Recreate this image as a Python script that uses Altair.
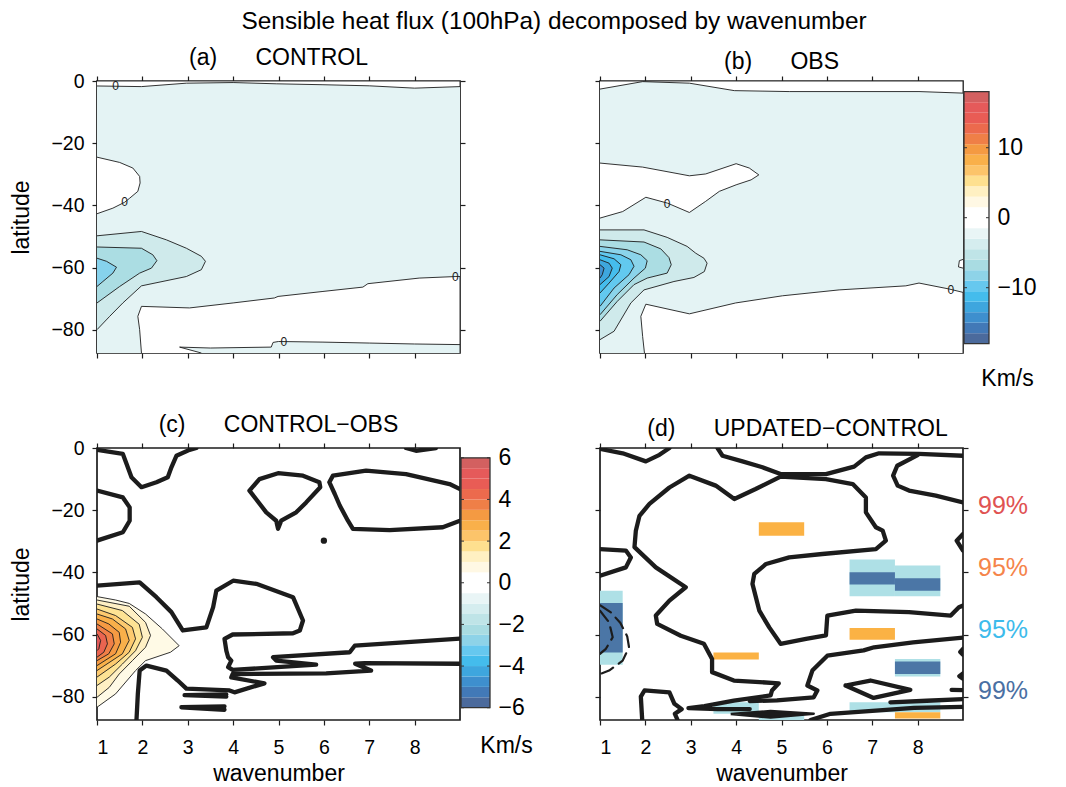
import altair as alt
import pandas as pd

# ---------------------------------------------------------------- data
WAVENUMBER_TICKS = [1, 2, 3, 4, 5, 6, 7, 8]
LATITUDE_TICKS = [0, -20, -40, -60, -80]
X_DOMAIN = [1, 9]
Y_DOMAIN = [-87.5, 0]

# colour bars (lowest band first)
CB_COLORS = ["#4b6a9c", "#4279b7", "#3e8fce", "#3ea6de", "#44bcec", "#66c8ef",
             "#8ed3e8", "#a9dce2", "#bfe4e7", "#d5edef", "#e9f5f6", "#ffffff",
             "#ffffff", "#fff8e4", "#fff0c2", "#fee08f", "#fcc46a", "#f9b04a",
             "#f49a42", "#ef7f47", "#ec6a4d", "#e95c55", "#e55a5a", "#d36060"]
CB_OBS_EDGES = [-18, -16.5, -15, -13.5, -12, -10.5, -9, -7.5, -6, -4.5, -3, -1.5, 0,
                1.5, 3, 4.5, 6, 7.5, 9, 10.5, 12, 13.5, 15, 16.5, 18]
CB_DIFF_EDGES = [-6, -5.5, -5, -4.5, -4, -3.5, -3, -2.5, -2, -1.5, -1, -0.5, 0,
                 0.5, 1, 1.5, 2, 2.5, 3, 3.5, 4, 4.5, 5, 5.5, 6]
CB_OBS_TICKS = [10, 0, -10]
CB_DIFF_TICKS = [6, 4, 2, 0, -2, -4, -6]

# panel frame corners (wavenumber, latitude)
FRAME = [(1, 0), (9, 0), (9, -87.5), (1, -87.5)]

# (a) CONTROL  -- contours as (wavenumber, latitude)
A_ZERO_TOP = [(1, -1.6), (1.98, -1.8), (2.97, -0.7), (4.0, -0.5), (4.95, -0.9), (5.98, -1.2),
              (7.0, -1.55), (8.0, -2.3), (9, -1.8), (9, 0), (1, 0)]
A_ZERO_UL = [(1, -24.5), (1.5, -26.2), (1.79, -28), (1.94, -30.7), (1.95, -32.8), (1.9, -35.5),
             (1.72, -37.7), (1.61, -39), (1.35, -40.9), (1, -42.7)]
A_ZERO_BOT = [(1.98, -87.5), (1.94, -80), (1.9, -75.7), (1.98, -72.5), (3.04, -73), (4.0, -71.4),
              (4.91, -69.8), (4.99, -69.3), (5.98, -67.7), (6.86, -66.3), (6.97, -65.2),
              (8.1, -63.4), (8.91, -62.9), (9, -62.9), (9, -87.5)]
A_NEG_STRIP = [(3.3, -87.5), (2.82, -85.6), (3.5, -85.9), (4.84, -85.6), (4.88, -84.1), (5.0, -83.8),
               (5.98, -84), (7.0, -84.3), (8.0, -84.6), (9, -84.8), (9, -87.5)]
A_L1 = [(1, -49.8), (1.98, -48.4), (2.53, -51.1), (2.97, -53.8), (3.3, -56.4), (3.39, -58),
        (3.3, -60.7), (2.97, -62.9), (1.98, -65.9), (1.57, -71.4), (1.28, -75.7), (1, -80)]
A_L2 = [(1, -53.4), (1.98, -53.8), (2.23, -55.9), (2.32, -57.8), (2.2, -60.2), (1.94, -61.8),
        (1.5, -66.1), (1, -71.4)]
A_L3 = [(1, -57), (1.21, -58), (1.43, -59.9), (1.35, -61.8), (1.13, -64.5), (1, -66.1)]
A_ZERO_LABELS = [(1.41, -1.5), (1.61, -39.0), (8.9, -62.9), (5.12, -84.0)]

# (b) OBS
B_ZERO_TOP = [(1, -2.6), (1.94, -0.2), (2.97, -0.7), (3.96, -3.1), (5.17, -3.4), (8.03, -3.4),
              (9, -3.9), (9, 0), (1, 0)]
B_ZERO_UL = [(1, -26.4), (1.94, -27.7), (2.97, -30.5), (3.33, -29.9), (4.0, -26.6), (4.29, -28),
             (4.5, -30.2), (4.33, -31.8), (4.0, -33.4), (3.63, -35.5), (3.33, -38.7), (2.97, -42.3),
             (2.49, -39.3), (2.01, -37.4), (1.5, -42), (1, -44.1)]
B_ZERO_BOT = [(1.98, -87.5), (1.94, -82.2), (1.9, -75.7), (2.01, -71.8), (2.97, -74.9), (3.99, -71.4),
              (5.02, -69.1), (6.27, -67.2), (7.74, -65.9), (8.03, -65), (8.69, -66.9), (9, -68),
              (9, -87.5)]
B_ZERO_BUMP = [(9, -57.4), (8.92, -57.8), (8.9, -59.8), (9, -60.2)]
B_L1 = [(1, -47.9), (1.97, -47.9), (2.48, -50.3), (2.92, -53.2), (3.11, -55.4), (3.29, -57),
        (3.36, -58.6), (3.3, -61.3), (3.07, -63.2), (2.63, -64.5), (1.97, -67.2), (1.68, -71.4),
        (1.31, -80.5), (1, -83.2)]
B_L2 = [(1, -51.1), (1.97, -51.8), (2.34, -54), (2.52, -56.8), (2.57, -59.1), (2.48, -61.8),
        (2.04, -63.4), (1.75, -65.5), (1.38, -70.9), (1, -77.3)]
B_L3 = [(1, -53.2), (1.6, -54.3), (1.9, -55.9), (2.04, -57.8), (2.0, -60.2), (1.75, -63.4),
        (1.38, -68.7), (1, -75.2)]
B_L4 = [(1, -54.8), (1.46, -55.9), (1.68, -57.5), (1.75, -59.6), (1.64, -62.3), (1.31, -66.6), (1, -72.5)]
B_L5 = [(1, -55.9), (1.31, -57.2), (1.46, -59.1), (1.42, -61.3), (1.2, -65), (1, -68.2)]
B_L6 = [(1, -57.5), (1.2, -58.6), (1.27, -60.2), (1.2, -62.9), (1, -65.5)]
B_L7 = [(1, -59.1), (1.09, -60.2), (1.05, -62.3), (1, -63.4)]
B_ZERO_LABELS = [(2.48, -39.5), (8.73, -67.2)]

# (c) CONTROL-OBS
C_L1 = [(1, -47.8), (1.41, -48.9), (1.71, -50.0), (2.07, -53.4), (2.44, -58.2), (2.81, -63.6),
        (2.62, -65.7), (2.07, -68.4), (1.85, -71.6), (1.41, -79.1), (1, -83.4)]
C_L2 = [(1, -48.9), (1.71, -50.9), (2.07, -56.1), (2.18, -60.3), (2.07, -64.1), (1.78, -68.4),
        (1.49, -72.7), (1.27, -77), (1, -80.2)]
C_L3 = [(1, -50.2), (1.56, -52.3), (1.93, -56.7), (2.0, -60.9), (1.85, -65.2), (1.56, -69.5),
        (1.27, -73.7), (1, -76.4)]
C_L4 = [(1, -51.8), (1.41, -53.9), (1.78, -57.7), (1.85, -61.4), (1.71, -65.7), (1.41, -69.5), (1, -73.7)]
C_L5 = [(1, -53.4), (1.34, -55), (1.63, -58.2), (1.71, -61.9), (1.56, -66.2), (1, -71.6)]
C_L6 = [(1, -55), (1.26, -56.6), (1.49, -59.3), (1.52, -62.5), (1.41, -66.2), (1, -70)]
C_L7 = [(1, -56.6), (1.34, -59.8), (1.38, -63), (1.26, -66.2), (1, -68.4)]
C_L8 = [(1, -58.2), (1.19, -60.3), (1.23, -63), (1.15, -65.7), (1, -67.3)]
C_L9 = [(1, -59.8), (1.08, -61.9), (1.04, -64.6), (1, -65.2)]
C_ZERO_1 = [(1, -0.6), (1.57, -1.9), (1.65, -5.1), (1.76, -9.4), (1.98, -12.6), (2.31, -11.0),
            (2.56, -9.4), (2.64, -6.2), (2.75, -2.5), (3.04, -0.6), (3.19, 0)]
C_ZERO_2 = [(1, -13.7), (1.57, -15.9), (1.72, -19.1), (1.72, -23.4), (1.57, -27.1), (1, -29.8)]
C_ZERO_3 = [(4.36, -13.7), (4.58, -10.0), (4.99, -8.1), (5.54, -8.9), (5.9, -11.0), (5.92, -12.6),
            (5.61, -17.5), (5.39, -20.7), (5.06, -23.4), (4.99, -26.0), (4.95, -23.4), (4.73, -20.7),
            (4.36, -13.7)]
C_ZERO_4 = [(9, -13.2), (8.77, -11.6), (7.81, -8.4), (6.93, -7.3), (6.2, -8.9), (6.12, -11.0),
            (6.24, -14.8), (6.35, -18.5), (6.53, -23.4), (6.64, -26.0), (7.45, -26.4), (8.62, -25.5),
            (9, -23.4)]
C_ZERO_5 = [(7.81, 0), (8.03, -0.9), (8.47, 0)]
C_ZERO_6 = [(1, -44.3), (1.94, -43.2), (2.31, -48.0), (2.64, -52.8), (2.89, -58.7), (3.41, -57.7),
            (3.56, -51.2), (3.63, -45.9), (4.0, -42.7), (4.51, -43.7), (5.32, -48.0), (5.54, -55.5),
            (5.47, -58.7), (5.32, -59.6), (3.99, -60.0), (3.81, -61.4), (3.85, -65.2), (3.89, -67.3),
            (3.96, -68.4), (3.89, -70.5), (3.99, -71.4), (5.83, -69.7), (4.95, -68.4), (4.88, -67.3),
            (6.57, -65.7), (6.68, -63.6), (9, -61.3)]
C_ZERO_7 = [(9, -69.4), (6.9, -69.2), (6.69, -69.4), (7.04, -71.6), (6.05, -72.5), (3.99, -72.7),
            (3.96, -73.8), (4.69, -75.7), (4.03, -78.6), (3.92, -78.0), (2.97, -77.4), (2.78, -74.8),
            (2.53, -71.6), (2.09, -70.0), (1.94, -71.6), (1.9, -79.1), (1.87, -87.5)]
C_ZERO_8 = [(3.85, -79.3), (2.93, -79.5), (3.85, -80.0)]
C_ZERO_9 = [(3.81, -83.1), (2.86, -83.4), (3.81, -84.2)]
C_ZERO_DOT = [(6.0, -29.8)]

# (d) UPDATED-CONTROL
D_ZERO_1 = [(1, -0.3), (1.5, -1.7), (2.01, -4.3), (2.31, -2.2), (2.53, 0)]
D_ZERO_2 = [(3.59, 0), (3.7, -2.5), (4.14, -4.3), (4.58, -6.2), (4.98, -8.4), (5.98, -8.4), (6.6, -6.0),
            (6.86, -3.0), (7.15, -1.7), (8.03, -1.9), (9, -2.5)]
D_ZERO_3 = [(8.0, -2.3), (7.55, -5.7), (7.46, -8.9), (7.56, -12.1), (7.81, -13.7), (8.4, -15.3), (9, -17.5)]
D_ZERO_4 = [(9, -50.7), (8.91, -51.2), (8.73, -53.9), (7.81, -52.8), (6.64, -52.3), (6.01, -53.9),
            (5.98, -60.3), (5.54, -61.4), (4.98, -63.0), (4.73, -57.7), (4.51, -52.3), (4.36, -43.7),
            (4.4, -40.5), (4.66, -37.3), (5.17, -35.2), (5.9, -34.1), (7.08, -32.5), (7.3, -29.8),
            (7.23, -26.6), (7.08, -25.5), (6.86, -20.7), (6.86, -15.9), (6.57, -11.6), (5.98, -10.0),
            (4.98, -9.2), (4.43, -13.2), (3.96, -16.4), (3.55, -12.1), (2.97, -8.9), (2.53, -12.7),
            (2.09, -18.0), (1.87, -21.8), (1.79, -26.6), (1.76, -31.9), (2.23, -38.4), (2.89, -44.8),
            (2.53, -49.1), (2.23, -53.9), (2.26, -56.6), (2.78, -60.4), (3.29, -63.0), (3.47, -67.9),
            (3.47, -72.1), (3.95, -74.8), (4.94, -75.7), (4.79, -78.0), (4.76, -79.6), (3.95, -81.3),
            (3.3, -83.0), (2.95, -83.7), (3.6, -84.0), (4.3, -84.0)]
D_ZERO_5 = [(9, -61.0), (7.9, -62.5), (7.04, -64.1), (6.81, -65.1), (6.01, -66.8), (5.68, -71.6),
            (5.57, -76.4), (5.79, -78.0), (5.71, -80.2), (4.9, -81.2), (4.3, -81.4)]
D_ZERO_6 = [(1.93, -87.5), (1.9, -80.0), (1.98, -78.0), (2.53, -78.6), (2.64, -82.3), (2.8, -84.0),
            (2.65, -85.5), (2.71, -87.5)]
D_ZERO_LENS = [(3.88, -85.6), (4.76, -84.6), (5.71, -85.5), (4.76, -86.7), (3.88, -85.6)]
D_ZERO_8 = [(5.64, -87.5), (6.08, -85.5), (7.92, -83.6), (9, -83.3)]
D_ZERO_9 = [(7.4, -81.8), (8.2, -81.3), (9, -80.8)]
D_ZERO_10 = [(6.41, -76.4), (6.96, -74.8), (7.84, -77.8), (7.03, -80.4), (6.41, -76.4)]
D_ZERO_11 = [(9, -64.6), (8.94, -65.6), (9, -66.5)]
D_ZERO_12 = [(9, -72.5), (8.92, -73.4), (9, -74.2)]
D_ZERO_13 = [(8.75, -77.8), (9, -77.9)]
D_ZERO_14 = [(1, -32.5), (1.57, -33.0), (1.68, -35.2), (1.57, -38.4), (1, -41.1)]
D_ZERO_15 = [(9, -27.7), (8.86, -29.8), (9, -33.0)]
D_NEG_1 = [(1, -50.6), (1.24, -52.9), (1.45, -56.3), (1.6, -60.6), (1.64, -64.1), (1.5, -68.4),
           (1.2, -71.6), (1, -72.7)]
D_NEG_2 = [(1, -52.3), (1.2, -56.1), (1.28, -60.9), (1.13, -64.6), (1, -66.2)]

# significant cells: wavenumber range, latitude range, kind
SIG_WN0 = [1, 6.5, 7.5, 7.5, 3.5, 4.5, 6.5, 1, 6.5, 7.5, 7.5, 4.5, 6.5, 3.5, 7.5]
SIG_WN1 = [1.5, 7.5, 8.5, 8.5, 4.5, 5.5, 8.5, 1.5, 7.5, 8.5, 8.5, 5.5, 7.5, 4.5, 8.5]
SIG_LAT0 = [-69.7, -47.7, -47.7, -73.5, -85.5, -87.5, -85.0, -65.8, -43.9, -45.9, -72.7, -28.2, -61.7, -68.0, -87.0]
SIG_LAT1 = [-45.9, -35.9, -37.8, -67.9, -81.8, -85.5, -81.8, -49.9, -40.0, -41.9, -68.7, -23.9, -57.9, -65.8, -85.0]
SIG_KIND = ["p95neg", "p95neg", "p95neg", "p95neg", "p95neg", "p95neg", "p95neg",
            "p99neg", "p99neg", "p99neg", "p99neg", "p95pos", "p95pos", "p95pos", "p95pos"]
SIG_LABELS = ["99%", "95%", "95%", "99%"]
SIG_LABEL_KIND = ["l99pos", "l95pos", "l95neg", "l99neg"]
SIG_LABEL_LAT = [-18.6, -38.5, -58.4, -78.3]
SIG_LABEL_WN = [9.33, 9.33, 9.33, 9.33]

# ---------------------------------------------------------------- style
FONT = "Liberation Sans"
W, H = 363, 272
SX = alt.Scale(domain=X_DOMAIN, nice=False, zero=False)
SY = alt.Scale(domain=Y_DOMAIN, nice=False, zero=False)
INK = "#1c1c1c"
BG_NEG = "#e4f3f4"
A_FILLS = ["#cfeaeb", "#abdde3", "#86d2ec"]
B_FILLS = ["#cfeaeb", "#abdde3", "#8bd4ea", "#62c9ef", "#45bdec", "#3ea7de", "#3f90cf"]
C_FILLS = ["#fffae6", "#fff0c4", "#fee394", "#fdca6f", "#f9b04a", "#f59a43", "#f07f47", "#ea6450", "#e25a59"]


def df_of(points):
    d = pd.DataFrame(points, columns=["wn", "lat"])
    d["i"] = range(len(d))
    return d


def xy():
    return dict(x=alt.X("wn:Q", scale=SX, axis=None), y=alt.Y("lat:Q", scale=SY, axis=None))


def poly(points, fill, sw=0.9):
    kw = dict(fill=fill, stroke=INK, strokeWidth=sw, strokeJoin="round", clip=True)
    if sw == 0:
        kw["strokeOpacity"] = 0
    return alt.Chart(df_of(points)).mark_line(**kw).encode(order="i:Q", **xy())


def line(points, sw=4.3, dash=None):
    kw = dict(stroke=INK, strokeWidth=sw, strokeJoin="round", strokeCap="round", clip=True)
    if dash:
        kw["strokeDash"] = dash
    return alt.Chart(df_of(points)).mark_line(**kw).encode(order="i:Q", **xy())


def zero_labels(points):
    return alt.Chart(df_of(points)).mark_text(text="0", fontSize=12, color=INK).encode(**xy())


def axes(show_x, show_y):
    common = dict(tickSize=5, tickWidth=1.2, tickColor=INK, domain=False, grid=False,
                  labelFontSize=19.5, labelColor="black", titleFontSize=23,
                  titleFontWeight="normal", titleColor="black")
    xa = alt.Axis(values=WAVENUMBER_TICKS, labels=show_x, labelPadding=13, titlePadding=6,
                  title="wavenumber" if show_x else None, **common)
    ya = alt.Axis(values=LATITUDE_TICKS, labels=show_y, labelPadding=8, titlePadding=17,
                  title="latitude" if show_y else None, **common)
    return alt.Chart(df_of(FRAME)).mark_point(opacity=0).encode(
        x=alt.X("wn:Q", scale=SX, axis=xa), y=alt.Y("lat:Q", scale=SY, axis=ya))


def axes2(right):
    common = dict(tickSize=5, tickWidth=1.2, tickColor=INK, domain=False, grid=False,
                  labels=False, title=None)
    xa = alt.Axis(orient="top", values=WAVENUMBER_TICKS, **common)
    ya = alt.Axis(orient="right", values=LATITUDE_TICKS, **common) if right else None
    return alt.Chart(df_of(FRAME)).mark_point(opacity=0).encode(
        x=alt.X("wn:Q", scale=SX, axis=xa), y=alt.Y("lat:Q", scale=SY, axis=ya))


def panel(layers, title, show_x, show_y, right, dx=0):
    return alt.layer(axes(show_x, show_y), axes2(right), *layers).resolve_axis(
        x="independent", y="independent").resolve_scale(color="independent").properties(
        width=W, height=H,
        title=alt.TitleParams(title, fontSize=23, fontWeight="normal", color="black",
                              anchor="middle", offset=1, dx=dx))


def colorbar(edges, ticks, width, domain, title_x):
    d = pd.DataFrame({"lo": edges[:-1], "hi": edges[1:], "band": list(range(len(CB_COLORS))),
                      "k": ["bar"] * len(CB_COLORS)})
    xs = alt.Scale(paddingInner=0, paddingOuter=0)
    xk = alt.X("k:N", scale=xs,
               axis=alt.Axis(title="Km/s", labels=False, ticks=False, domain=False, grid=False,
                             titlePadding=14, titleX=title_x, titleFontSize=23,
                             titleFontWeight="normal", titleColor="black"))
    ys = alt.Scale(domain=domain, nice=False, zero=False)
    bands = alt.Chart(d).mark_rect().encode(
        x=xk,
        y=alt.Y("lo:Q", scale=ys, axis=alt.Axis(orient="right", values=ticks, tickSize=0, domain=False,
                                                  grid=False, labelFontSize=23, labelPadding=8,
                                                  labelColor="black", title=None)),
        y2="hi:Q",
        color=alt.Color("band:O", scale=alt.Scale(domain=list(range(len(CB_COLORS))), range=CB_COLORS),
                        legend=None))
    fr = pd.DataFrame({"lo": [edges[0]], "hi": [edges[-1]], "k": ["bar"]})
    frame = alt.Chart(fr).mark_rect(fillOpacity=0, stroke="#333333", strokeWidth=1.3).encode(
        x=alt.X("k:N", scale=xs, axis=None), y=alt.Y("lo:Q", scale=ys, axis=None), y2="hi:Q")
    tk = pd.DataFrame({"v": ticks})
    tl = alt.Chart(tk).mark_rule(color="#333333", strokeWidth=1).encode(
        y=alt.Y("v:Q", scale=ys, axis=None), x=alt.value(0), x2=alt.value(3))
    tr = alt.Chart(tk).mark_rule(color="#333333", strokeWidth=1).encode(
        y=alt.Y("v:Q", scale=ys, axis=None), x=alt.value(width - 3), x2=alt.value(width))
    return alt.layer(bands, frame, tl, tr).resolve_axis(x="independent", y="independent").properties(
        width=width, height=H, view=alt.ViewBackground(strokeOpacity=0))


def spacer(width):
    return alt.Chart(pd.DataFrame({"t": [""]})).mark_text().encode(text="t:N").properties(
        width=width, height=H, view=alt.ViewBackground(strokeOpacity=0))


# ---------------------------------------------------------------- panels
pa = panel([poly(FRAME, BG_NEG, 0), poly(A_ZERO_TOP, "white"), poly(A_ZERO_UL, "white"),
            poly(A_ZERO_BOT, "white"), poly(A_NEG_STRIP, BG_NEG),
            poly(A_L1, A_FILLS[0]), poly(A_L2, A_FILLS[1]), poly(A_L3, A_FILLS[2]),
            zero_labels(A_ZERO_LABELS)],
           "(a)\u00a0\u00a0\u00a0\u00a0\u00a0\u00a0CONTROL", False, True, True)

pb = panel([poly(FRAME, BG_NEG, 0), poly(B_ZERO_TOP, "white"), poly(B_ZERO_UL, "white"),
            poly(B_ZERO_BOT, "white"), poly(B_ZERO_BUMP, "white")]
           + [poly(p, c) for p, c in zip([B_L1, B_L2, B_L3, B_L4, B_L5, B_L6, B_L7], B_FILLS)]
           + [zero_labels(B_ZERO_LABELS)],
           "(b)\u00a0\u00a0\u00a0\u00a0\u00a0\u00a0OBS", False, False, False)

c_dot = alt.Chart(df_of(C_ZERO_DOT)).mark_circle(size=40, color=INK, opacity=1).encode(**xy())
pc = panel([poly(p, c) for p, c in zip([C_L1, C_L2, C_L3, C_L4, C_L5, C_L6, C_L7, C_L8, C_L9], C_FILLS)]
           + [line(p) for p in [C_ZERO_1, C_ZERO_2, C_ZERO_3, C_ZERO_4, C_ZERO_5, C_ZERO_6,
                                C_ZERO_7, C_ZERO_8, C_ZERO_9]] + [c_dot],
           "(c)\u00a0\u00a0\u00a0\u00a0\u00a0\u00a0CONTROL\u2212OBS", True, True, False)

sig = pd.DataFrame({"wn0": SIG_WN0, "wn1": SIG_WN1, "lat0": SIG_LAT0, "lat1": SIG_LAT1, "kind": SIG_KIND})
SIG_SCALE = alt.Scale(domain=["p95pos", "p95neg", "p99neg"],
                      range=["#fbb244", "#aee0e6", "#4b76a6"])
sig_rects = alt.Chart(sig).mark_rect().encode(
    x=alt.X("wn0:Q", scale=SX, axis=None), x2="wn1:Q",
    y=alt.Y("lat0:Q", scale=SY, axis=None), y2="lat1:Q",
    color=alt.Color("kind:N", scale=SIG_SCALE, legend=None))
lab = pd.DataFrame({"wn": SIG_LABEL_WN, "lat": SIG_LABEL_LAT, "t": SIG_LABELS, "kind": SIG_LABEL_KIND})
LAB_SCALE = alt.Scale(domain=["l99pos", "l95pos", "l95neg", "l99neg"],
                      range=["#e05252", "#f5844a", "#3dbbeb", "#4a6fa3"])
sig_labels = alt.Chart(lab).mark_text(align="left", baseline="middle", fontSize=25).encode(
    x=alt.X("wn:Q", scale=SX, axis=None), y=alt.Y("lat:Q", scale=SY, axis=None), text="t:N",
    color=alt.Color("kind:N", scale=LAB_SCALE, legend=None))
pd_ = panel([sig_rects]
            + [line(p) for p in [D_ZERO_1, D_ZERO_2, D_ZERO_3, D_ZERO_4, D_ZERO_5, D_ZERO_6,
                                 D_ZERO_8, D_ZERO_9, D_ZERO_10, D_ZERO_11, D_ZERO_12, D_ZERO_13,
                                 D_ZERO_14, D_ZERO_15]]
            + [poly(D_ZERO_LENS, INK, 2.5), line(D_NEG_1, 2.2, [13, 7]), line(D_NEG_2, 2.2, [13, 7]),
               sig_labels],
            "(d)\u00a0\u00a0\u00a0\u00a0\u00a0\u00a0UPDATED\u2212CONTROL", True, False, True, dx=16)

cb_b = colorbar(CB_OBS_EDGES, CB_OBS_TICKS, 25, [-19.33, 19.53], 43)
cb_c = colorbar(CB_DIFF_EDGES, CB_DIFF_TICKS, 29, [-6.59, 6.47], 45)

chart = alt.concat(
    pa, spacer(29), spacer(108), pb, cb_b,
    pc, cb_c, spacer(108), pd_, spacer(25),
    columns=5, spacing={"row": 95, "column": 1}, bounds="flush",
    title=alt.TitleParams("Sensible heat flux (100hPa) decomposed by wavenumber", fontSize=24.4,
                          fontWeight="normal", color="black", anchor="middle", offset=12, dx=31),
).properties(padding={"left": 10, "top": 8, "right": 5, "bottom": 5}).configure(
    font=FONT).configure_view(stroke=INK, strokeWidth=1.7)

chart.save("out.html", embed_options={"renderer": "svg", "actions": False})
